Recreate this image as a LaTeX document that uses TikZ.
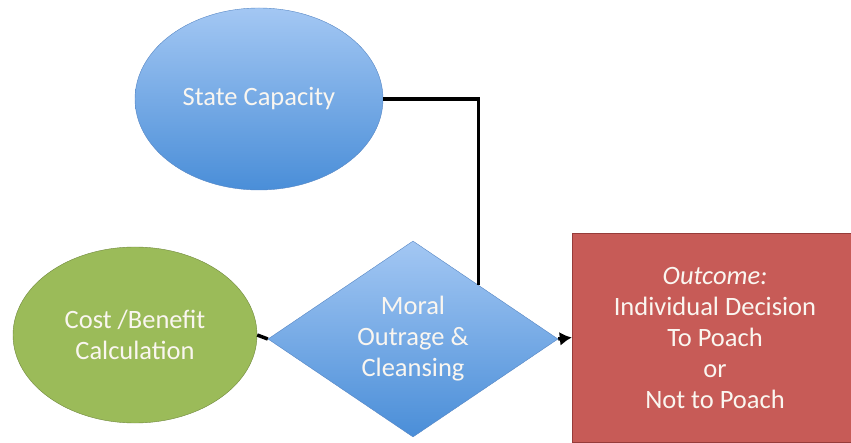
\documentclass[tikz,border=0pt]{standalone}
\usepackage{fontspec}
\setmainfont{Carlito}
\usepackage{tikz}
\usetikzlibrary{arrows,arrows.meta,shapes,positioning,calc}
\definecolor{ovaltop}{RGB}{163,199,243}
\definecolor{ovalbottom}{RGB}{74,142,216}
\definecolor{ovalline}{RGB}{86,134,196}
\definecolor{costfill}{RGB}{155,187,89}
\definecolor{costline}{RGB}{113,137,63}
\definecolor{outfill}{RGB}{199,91,87}
\definecolor{outline}{RGB}{150,60,58}
\definecolor{labeltext}{RGB}{250,246,240}
\tikzset{
    basic/.style  = {draw, thin, align=center, text=labeltext, font=\fontsize{26.5}{31}\selectfont},
    blue oval/.style = {basic, ellipse, draw=ovalline, top color=ovaltop, bottom color=ovalbottom},
    green oval/.style = {basic, ellipse, draw=costline, fill=costfill},
    choice/.style = {basic, diamond, aspect=1.5, inner sep=0pt, draw=ovalline, top color=ovaltop, bottom color=ovalbottom},
    result/.style = {basic, rectangle, draw=outline, fill=outfill}
}

\begin{document}
\begin{tikzpicture}[x=1pt, y=-1pt, >={Latex[length=12pt,width=14pt]}, line width=3.5pt]
	\useasboundingbox (0,0) rectangle (851,443);
		\begin{scope}[every node/.style={line width=0.8pt}]
			\node[blue oval, minimum width=248pt, minimum height=182pt](nodestate) at (259,99){State Capacity};
			\node[green oval, minimum width=244pt, minimum height=176pt](nodecost) at (135,335){Cost /Benefit\\Calculation};
			\node[choice, minimum width=290pt, minimum height=196pt](nodemoral) at (413,339){Moral\\Outrage \&\\Cleansing};
			\node[result, minimum width=286pt, minimum height=209pt](nodeoutcome) at (715,337.5){\textit{Outcome:}\\Individual Decision\\To Poach\\or\\Not to Poach};
		\end{scope}
		\coordinate (nodehit) at ($(nodemoral.north)!0.45!(nodemoral.east)$);
		\draw (nodestate.east) -| (nodehit);
		\draw (nodecost.east) -- (nodemoral.west);
		\draw[->] (nodemoral.east) -- (nodeoutcome.west);
\end{tikzpicture}
\end{document}
